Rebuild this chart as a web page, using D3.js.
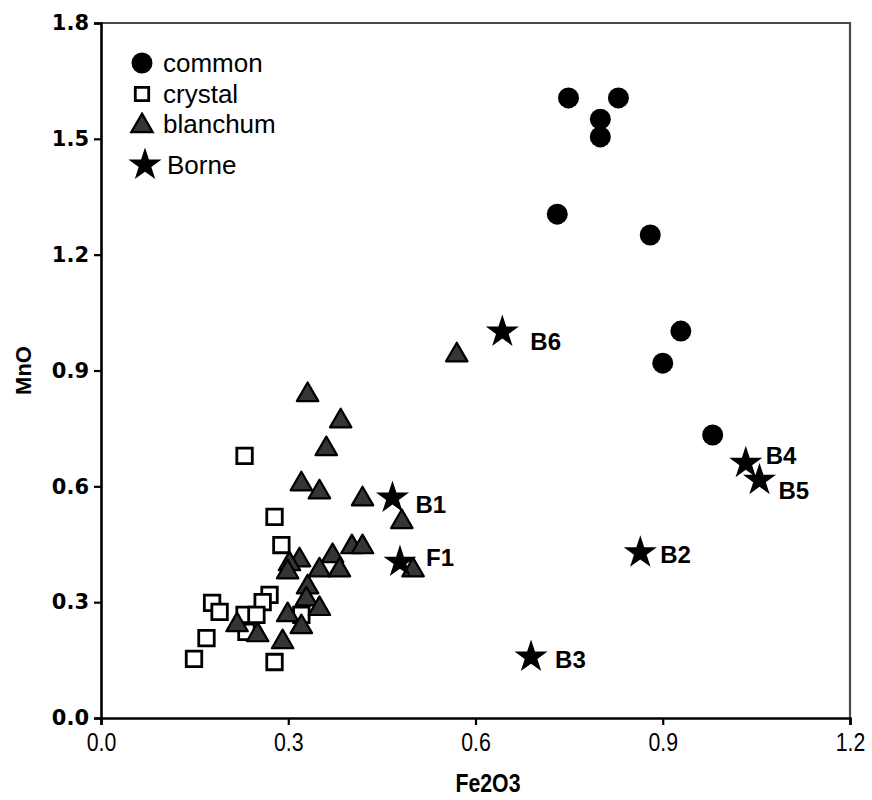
<!DOCTYPE html>
<html>
<head>
<meta charset="utf-8">
<script src="https://cdn.jsdelivr.net/npm/d3@7"></script>
<style>
  body { margin: 0; background: #fff; }
  svg { display: block; }
</style>
</head>
<body>
<svg width="872" height="800"></svg>
<script>
// values
var common = [
  [0.749, 1.606], [0.829, 1.606], [0.800, 1.551], [0.800, 1.505],
  [0.731, 1.305], [0.880, 1.251], [0.929, 1.002], [0.900, 0.919],
  [0.980, 0.733]
];

var crystal = [
  [0.230, 0.679], [0.278, 0.521], [0.289, 0.448], [0.178, 0.298],
  [0.190, 0.275], [0.270, 0.319], [0.259, 0.300], [0.230, 0.267],
  [0.249, 0.267], [0.233, 0.223], [0.169, 0.207], [0.149, 0.153],
  [0.278, 0.145], [0.321, 0.267]
];

var blanchum = [
  [0.570, 0.945], [0.331, 0.842], [0.384, 0.774], [0.361, 0.702],
  [0.321, 0.611], [0.350, 0.590], [0.419, 0.572], [0.482, 0.513],
  [0.402, 0.448], [0.419, 0.448], [0.500, 0.388], [0.371, 0.425],
  [0.318, 0.414], [0.302, 0.404], [0.299, 0.383], [0.350, 0.388],
  [0.382, 0.388], [0.331, 0.344], [0.329, 0.313], [0.350, 0.288],
  [0.299, 0.272], [0.321, 0.241], [0.218, 0.246], [0.251, 0.220],
  [0.291, 0.202]
];

var borneNames = ["B6", "B4", "B5", "B1", "F1", "B2", "B3"];
var borne = [
  [0.643, 1.000], [1.033, 0.660], [1.055, 0.616], [0.467, 0.570],
  [0.479, 0.404], [0.864, 0.428], [0.689, 0.158]
];

var xTicks = [0, 0.3, 0.6, 0.9, 1.2];
var yTicks = [0, 0.3, 0.6, 0.9, 1.2, 1.5, 1.8];
var legendNames = ["common", "crystal", "blanchum", "Borne"];

// label nudges for the Borne stars
var labelOffset = {
  B6: [28, 10], B4: [20, -8], B5: [19, 10], B1: [23, 7],
  F1: [26, -4], B2: [20, 2], B3: [24, 3]
};

var svg = d3.select("svg");
var mLeft = 101, mRight = 850, mTop = 23, mBottom = 718;

var x = d3.scaleLinear().domain([0, 1.2]).range([mLeft, mRight]);
var y = d3.scaleLinear().domain([0, 1.8]).range([mBottom, mTop]);

// frame: top and right in grey
svg.append("path")
  .attr("d", "M" + mLeft + "," + mTop + "H" + mRight + "V" + mBottom)
  .attr("fill", "none")
  .attr("stroke", "#4a4a4a")
  .attr("stroke-width", 2.2);

var yAxis = svg.append("g")
  .attr("transform", "translate(" + mLeft + ",0)")
  .call(d3.axisLeft(y).tickValues(yTicks).tickFormat(d3.format(".1f")).tickSize(7).tickPadding(5));
yAxis.selectAll("text")
  .attr("font-family", "DejaVu Sans")
  .attr("font-weight", "bold")
  .attr("font-size", 21)
  .attr("fill", "#000");

var xAxis = svg.append("g")
  .attr("transform", "translate(0," + mBottom + ")")
  .call(d3.axisBottom(x).tickValues(xTicks).tickFormat(d3.format(".1f")).tickSize(7).tickPadding(6));
// condensed look for the bottom labels
xAxis.selectAll(".tick text")
  .attr("font-family", "Liberation Sans, Arial")
  .attr("font-size", 26)
  .attr("fill", "#000")
  .attr("transform", "scale(0.82,1)")
  .attr("x", 0)
  .attr("dy", "0.78em");
xAxis.selectAll(".tick").each(function () {
  // keep the label centred under the tick after scaling
  d3.select(this).select("text").attr("transform", "scale(0.82,1)");
});

[yAxis, xAxis].forEach(function (g) {
  g.select(".domain").attr("stroke", "#000").attr("stroke-width", 2.6);
  g.selectAll(".tick line").attr("stroke", "#000").attr("stroke-width", 2.2);
});

// axis titles
svg.append("text")
  .attr("transform", "translate(31," + y(0.9) + ") rotate(-90)")
  .attr("text-anchor", "middle")
  .attr("font-family", "Liberation Sans, Arial")
  .attr("font-weight", "bold")
  .attr("font-size", 22)
  .text("MnO");

svg.append("text")
  .attr("transform", "translate(" + x(0.62) + ",792) scale(0.85,1)")
  .attr("text-anchor", "middle")
  .attr("font-family", "Liberation Sans, Arial")
  .attr("font-weight", "bold")
  .attr("font-size", 25)
  .text("Fe2O3");

var sq = d3.symbol().type(d3.symbolSquare).size(240);
var tri = d3.symbol().type(d3.symbolTriangle).size(200);
var star = d3.symbol().type(d3.symbolStar).size(340);

// crystal squares
svg.append("g").selectAll("path")
  .data(crystal)
  .enter().append("path")
  .attr("d", sq)
  .attr("transform", function (d) { return "translate(" + x(d[0]) + "," + y(d[1]) + ")"; })
  .attr("fill", "#fff")
  .attr("stroke", "#000")
  .attr("stroke-width", 2.8);

// blanchum triangles
svg.append("g").selectAll("path")
  .data(blanchum)
  .enter().append("path")
  .attr("d", tri)
  .attr("transform", function (d) { return "translate(" + x(d[0]) + "," + (y(d[1]) + 2) + ")"; })
  .attr("fill", "#353535")
  .attr("stroke", "#000")
  .attr("stroke-width", 2.2)
  .attr("stroke-linejoin", "round");

// common circles
svg.append("g").selectAll("circle")
  .data(common)
  .enter().append("circle")
  .attr("cx", function (d) { return x(d[0]); })
  .attr("cy", function (d) { return y(d[1]); })
  .attr("r", 10.5)
  .attr("fill", "#000");

// Borne stars + labels
var bg = svg.append("g").selectAll("g")
  .data(borne)
  .enter().append("g")
  .attr("transform", function (d) { return "translate(" + x(d[0]) + "," + y(d[1]) + ")"; });
bg.append("path")
  .attr("d", star)
  .attr("fill", "#000");
bg.append("text")
  .attr("x", function (d, i) { return labelOffset[borneNames[i]][0]; })
  .attr("y", function (d, i) { return labelOffset[borneNames[i]][1]; })
  .attr("dy", "0.35em")
  .attr("font-family", "Liberation Sans, Arial")
  .attr("font-weight", "bold")
  .attr("font-size", 24)
  .text(function (d, i) { return borneNames[i]; });

// legend
var legY = [63, 94, 124, 165];
var leg = svg.append("g").selectAll("g")
  .data(legendNames)
  .enter().append("g")
  .attr("transform", function (d, i) { return "translate(142," + legY[i] + ")"; });
leg.each(function (d, i) {
  var g = d3.select(this);
  if (i == 0) g.append("circle").attr("r", 10.5).attr("fill", "#000");
  if (i == 1) g.append("path").attr("d", d3.symbol().type(d3.symbolSquare).size(180)).attr("fill", "#fff").attr("stroke", "#000").attr("stroke-width", 2.8);
  if (i == 2) g.append("path").attr("d", tri).attr("transform", "translate(0,2)").attr("fill", "#353535").attr("stroke", "#000").attr("stroke-width", 2.2);
  if (i == 3) g.append("path").attr("d", star).attr("transform", "translate(3,0)").attr("fill", "#000");
});
leg.append("text")
  .attr("x", function (d, i) { return i == 3 ? 25 : 21; })
  .attr("dy", "0.35em")
  .attr("font-family", "Liberation Sans, Arial")
  .attr("font-size", 26)
  .text(function (d) { return d; });
</script>
</body>
</html>
